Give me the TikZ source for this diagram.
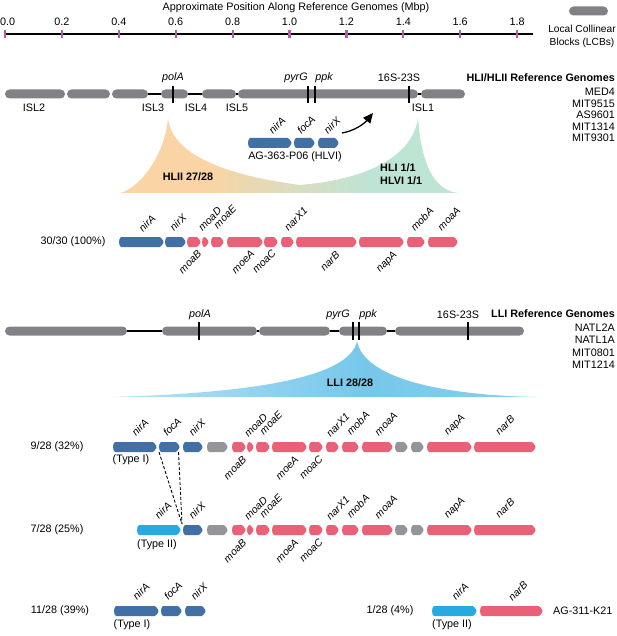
\documentclass[tikz,border=0pt]{standalone}
\usepackage{fontspec}
\setmainfont{Liberation Sans}
\usetikzlibrary{arrows.meta}
\definecolor{lcb}{RGB}{128,130,133}
\definecolor{gblue}{RGB}{64,112,166}
\definecolor{glight}{RGB}{39,170,225}
\definecolor{gred}{RGB}{234,96,118}
\definecolor{ggray}{RGB}{147,149,152}
\definecolor{tickc}{RGB}{180,95,165}
\definecolor{peach}{RGB}{250,212,165}
\definecolor{mint}{RGB}{190,228,212}
\definecolor{llight}{RGB}{240,249,253}
\definecolor{lblue}{RGB}{118,199,234}
\definecolor{lblue2}{RGB}{165,217,241}
\pgfdeclarehorizontalshading{hlshade}{100bp}{color(0bp)=(peach); color(38bp)=(peach); color(62bp)=(mint); color(100bp)=(mint)}
\pgfdeclarehorizontalshading{llshade}{100bp}{color(0bp)=(llight); color(55bp)=(lblue); color(100bp)=(lblue2)}
\newcommand\gn[4]{\fill[#4] ({#1+2},{#3-5}) [rounded corners=1pt] -- ({#2-3.5},{#3-5}) -- ({#2},{#3}) -- ({#2-3.5},{#3+5}) [sharp corners] -- ({#1+2},{#3+5}) .. controls ({#1-0.6},{#3+4}) and ({#1-0.6},{#3-4}) .. cycle;}
\newcommand\seg[3]{\fill[lcb,rounded corners=4.5pt] (#1,{#3-4.5}) rectangle (#2,{#3+4.5});}
\newcommand\lnk[3]{\draw[line width=2pt] (#1,#3) -- (#2,#3);}
\newcommand\mrk[3]{\draw[line width=2pt] (#1,#2) -- (#1,#3);}
\tikzset{
  txt/.style={font=\fontsize{10.8}{12}\selectfont, inner sep=0},
  btxt/.style={font=\fontsize{10.8}{12}\selectfont\bfseries, inner sep=0},
  itxt/.style={font=\fontsize{10.8}{12}\selectfont\itshape, inner sep=0},
  glab/.style={font=\fontsize{10.4}{10.4}\selectfont\itshape, rotate=45, inner sep=0},
}
\begin{document}
\begin{tikzpicture}[x=1pt,y=-1pt]
\useasboundingbox (0,0) rectangle (617,636);
% ---------- axis ----------
\node[txt] (title) at (296,8) {Approximate Position Along Reference Genomes (Mbp)};
\draw[line width=2.2pt] (4,34) -- (533,34);
\foreach \i in {0,...,9} \draw[tickc, line width=2.2pt] ({5+56.9*\i},30) -- ({5+56.9*\i},38);
\node[txt,anchor=west] (t0) at (0,22) {0.0};
\foreach \i/\l in {1/0.2,2/0.4,3/0.6,4/0.8,5/1.0,6/1.2,7/1.4,8/1.6,9/1.8}
  \node[txt] (t\i) at ({5+56.9*\i},22) {\l};
\fill[lcb,rounded corners=4.5pt] (569,6.5) rectangle (608,15.5);
\node[align=center,inner sep=0,font=\fontsize{10.2}{12}\selectfont] (leg) at (582,36) {Local Collinear\\[1pt]Blocks (LCBs)};
% ---------- HL reference genome ----------
\lnk{148}{161}{94}\lnk{188}{202}{94}\lnk{236}{238}{94}\lnk{418}{421}{94}
\seg{5}{65}{94}\seg{67}{110}{94}\seg{112}{148}{94}\seg{161}{188}{94}
\seg{202}{236}{94}\seg{238}{418}{94}\seg{421}{465}{94}
\mrk{173}{86}{103}\mrk{308}{86}{103}\mrk{315}{86}{103}\mrk{409}{86}{103}
\node[itxt] (hpola) at (173,78) {polA};
\node[itxt] (hpyrg) at (296,78) {pyrG};
\node[itxt] (hppk) at (324,78) {ppk};
\node[txt] (h16s) at (399,78) {16S-23S};
\node[txt] (isl2) at (34,108) {ISL2};
\node[txt] (isl3) at (153,108) {ISL3};
\node[txt] (isl4) at (196,108) {ISL4};
\node[txt] (isl5) at (237,108) {ISL5};
\node[txt] (isl1) at (423,108) {ISL1};
\node[btxt,anchor=east] (hlref) at (615,78) {HLI/HLII Reference Genomes};
\node[txt,anchor=east] (g1) at (615,92) {MED4};
\node[txt,anchor=east] (g2) at (615,103.5) {MIT9515};
\node[txt,anchor=east] (g3) at (615,115) {AS9601};
\node[txt,anchor=east] (g4) at (615,126.5) {MIT1314};
\node[txt,anchor=east] (g5) at (615,138) {MIT9301};
% ---------- HL cone ----------
\shade[shading=hlshade] (120,193) .. controls (140,188) and (165,155) .. (168,118)
  .. controls (172,155) and (225,175) .. (300,185)
  .. controls (360,180) and (412,160) .. (418,118)
  .. controls (421,160) and (432,190) .. (458,193) -- cycle;
\node[btxt] (hlii) at (188,177) {HLII 27/28};
\node[btxt,anchor=west] (hli) at (380,168) {HLI 1/1};
\node[btxt,anchor=west] (hlvi) at (380,181) {HLVI 1/1};
% ---------- AG-363-P06 ----------
\gn{248}{292}{143}{gblue}\gn{294}{315}{143}{gblue}\gn{318}{339}{143}{gblue}
\node[glab] (an1) at (277,125) {nirA};
\node[glab] (an2) at (306,125) {focA};
\node[glab] (an3) at (332,125) {nirX};
\node[txt] (ag363) at (295,157) {AG-363-P06 (HLVI)};
\coordinate (arS) at (342,133);
\coordinate (arE) at (373,113);
\draw[line width=1.3pt,-{Triangle[length=10pt,width=9pt]}] (arS) .. controls (354,131) and (364,124) .. (arE);
% ---------- HL row ----------
\node[txt] (r0) at (73,242) {30/30 (100\%)};
\gn{119}{164}{242}{gblue}\gn{165}{186}{242}{gblue}
\gn{187}{201}{242}{gred}\gn{202}{209}{242}{gred}\gn{211}{224}{242}{gred}
\gn{227}{263}{242}{gred}\gn{264}{278}{242}{gred}\gn{281}{294}{242}{gred}
\gn{296}{357}{242}{gred}\gn{359}{404}{242}{gred}\gn{407}{425}{242}{gred}
\gn{428}{458}{242}{gred}
\node[glab] (h1) at (147,223) {nirA};
\node[glab] (h2) at (178,222) {nirX};
\node[glab] (h3) at (210,219) {moaD};
\node[glab] (h4) at (225,217) {moaE};
\node[glab] (h5) at (296,219) {narX1};
\node[glab] (h6) at (422,219) {mobA};
\node[glab] (h7) at (449,219) {moaA};
\node[glab] (h8) at (190,262) {moaB};
\node[glab] (h9) at (243,262) {moeA};
\node[glab] (h10) at (264,261) {moaC};
\node[glab] (h11) at (330,261) {narB};
\node[glab] (h12) at (387,262) {napA};
% ---------- LL reference genome ----------
\lnk{127}{162}{331}\lnk{257}{259}{331}\lnk{330}{339}{331}\lnk{387}{395}{331}
\seg{5}{127}{331}\seg{162}{257}{331}\seg{259}{330}{331}\seg{339}{387}{331}\seg{395}{524}{331}
\mrk{199}{322}{340}\mrk{353}{322}{340}\mrk{359}{322}{340}\mrk{468}{322}{340}
\node[itxt] (lpola) at (200,315) {polA};
\node[itxt] (lpyrg) at (338,315) {pyrG};
\node[itxt] (lppk) at (368,315) {ppk};
\node[txt] (l16s) at (458,315) {16S-23S};
\node[btxt,anchor=east] (llref) at (615,314) {LLI Reference Genomes};
\node[txt,anchor=east] (n1) at (615,328) {NATL2A};
\node[txt,anchor=east] (n2) at (615,340) {NATL1A};
\node[txt,anchor=east] (n3) at (615,352.5) {MIT0801};
\node[txt,anchor=east] (n4) at (615,365) {MIT1214};
\shade[shading=llshade] (112,397) .. controls (250,393) and (350,378) .. (357,341)
  .. controls (364,378) and (440,395) .. (536,397) -- cycle;
\node[btxt] (lli) at (350,383) {LLI 28/28};
% ---------- LL row 1 ----------
\node[txt] (r1) at (57,447) {9/28 (32\%)};
\gn{113}{157}{447}{gblue}\gn{159}{180}{447}{gblue}\gn{183}{203}{447}{gblue}
\gn{207}{228}{447}{ggray}
\gn{232}{246}{447}{gred}\gn{247}{254}{447}{gred}\gn{256}{270}{447}{gred}
\gn{272}{307}{447}{gred}\gn{309}{323}{447}{gred}\gn{326}{339}{447}{gred}
\gn{342}{359}{447}{gred}\gn{362}{393}{447}{gred}
\gn{395}{408}{447}{ggray}\gn{411}{424}{447}{ggray}
\gn{427}{472}{447}{gred}\gn{474}{536}{447}{gred}
\node[txt] (ty1) at (131,460) {(Type I)};
\node[glab] (a1) at (140,427) {nirA};
\node[glab] (a2) at (172,427) {focA};
\node[glab] (a3) at (197,427) {nirX};
\node[glab] (a4) at (256,425) {moaD};
\node[glab] (a5) at (271,423) {moaE};
\node[glab] (a6) at (338,425) {narX1};
\node[glab] (a7) at (358,423) {mobA};
\node[glab] (a8) at (386,424) {moaA};
\node[glab] (a9) at (455,425) {napA};
\node[glab] (a10) at (505,425) {narB};
\node[glab] (a11) at (235,468) {moaB};
\node[glab] (a12) at (287,468) {moeA};
\node[glab] (a13) at (311,467) {moaC};
% ---------- LL row 2 ----------
\node[txt] (r2) at (57,530) {7/28 (25\%)};
\gn{137}{181}{530}{glight}\gn{183}{203}{530}{gblue}
\gn{207}{228}{530}{ggray}
\gn{232}{246}{530}{gred}\gn{247}{254}{530}{gred}\gn{256}{270}{530}{gred}
\gn{272}{307}{530}{gred}\gn{309}{323}{530}{gred}\gn{326}{339}{530}{gred}
\gn{342}{359}{530}{gred}\gn{362}{393}{530}{gred}
\gn{395}{408}{530}{ggray}\gn{411}{424}{530}{ggray}
\gn{427}{472}{530}{gred}\gn{474}{536}{530}{gred}
\node[txt] (ty2) at (157,545) {(Type II)};
\node[glab] (b1) at (163,510) {nirA};
\node[glab] (b3) at (197,510) {nirX};
\node[glab] (b4) at (256,508) {moaD};
\node[glab] (b5) at (271,506) {moaE};
\node[glab] (b6) at (338,508) {narX1};
\node[glab] (b7) at (358,506) {mobA};
\node[glab] (b8) at (386,507) {moaA};
\node[glab] (b9) at (455,508) {napA};
\node[glab] (b10) at (505,508) {narB};
\node[glab] (b11) at (235,551) {moaB};
\node[glab] (b12) at (287,551) {moeA};
\node[glab] (b13) at (311,550) {moaC};
% dashed correspondence
\coordinate (fL) at (159,452);
\coordinate (fR) at (178.5,452);
\coordinate (jn) at (182,524);
\draw[line width=0.9pt, dash pattern=on 3pt off 2pt] (fL) -- (jn);
\draw[line width=0.9pt, dash pattern=on 3pt off 2pt] (fR) -- (jn);
% ---------- bottom row ----------
\node[txt] (r3) at (60,611) {11/28 (39\%)};
\gn{114}{159}{611}{gblue}\gn{161}{182}{611}{gblue}\gn{185}{206}{611}{gblue}
\node[txt] (ty3) at (132,625) {(Type I)};
\node[glab] (c1) at (141,591) {nirA};
\node[glab] (c2) at (173,591) {focA};
\node[glab] (c3) at (199,591) {nirX};
\node[txt] (r4) at (390,611) {1/28 (4\%)};
\gn{432}{477}{611}{glight}\gn{480}{543}{611}{gred}
\node[txt] (ty4) at (452,625) {(Type II)};
\node[glab] (c4) at (460,591) {nirA};
\node[glab] (c5) at (518,591) {narB};
\node[txt,anchor=west] (ag311) at (553,611) {AG-311-K21};
\end{tikzpicture}
\end{document}
